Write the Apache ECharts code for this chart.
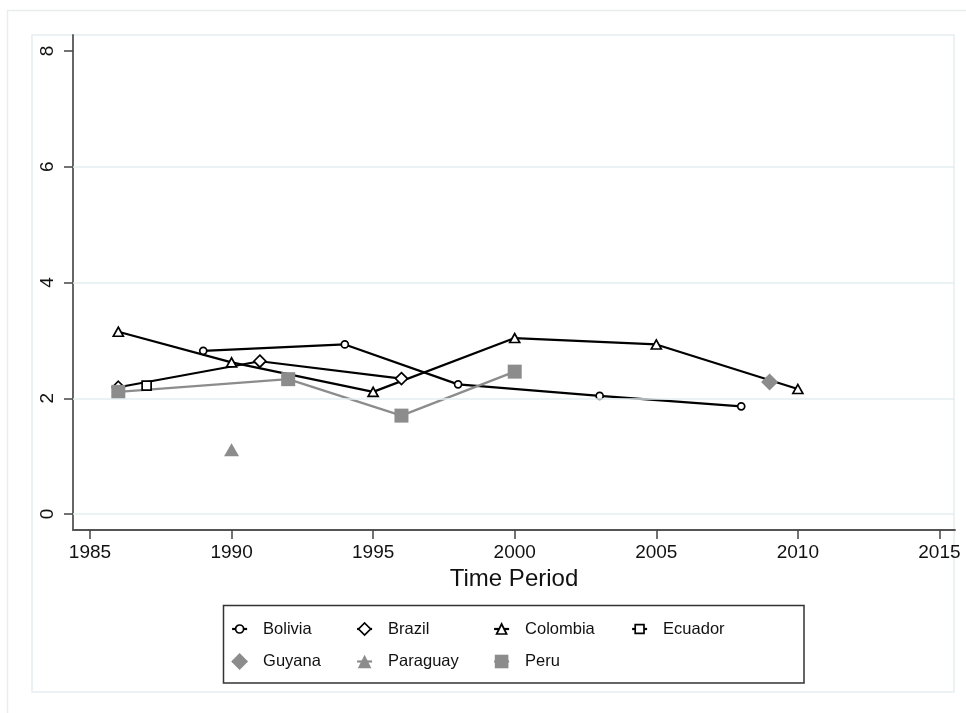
<!DOCTYPE html>
<html>
<head>
<meta charset="utf-8">
<title>Time Period</title>
<script src="https://cdn.jsdelivr.net/npm/echarts@6/dist/echarts.min.js"></script>
<style>
  html, body { margin: 0; padding: 0; background: #fff; }
  #chart { width: 966px; height: 713px; }
</style>
</head>
<body>
<div id="chart"></div>
<script>
// Election years and values per country
const boliviaYears  = [1989, 1994, 1998, 2003, 2008];
const boliviaValues = [2.82, 2.93, 2.24, 2.04, 1.86];

const brazilYears  = [1986, 1991, 1996];
const brazilValues = [2.19, 2.64, 2.34];

const colombiaYears  = [1986, 1990, 1995, 2000, 2005, 2010];
const colombiaValues = [3.15, 2.62, 2.11, 3.04, 2.93, 2.16];

const ecuadorYears  = [1987];
const ecuadorValues = [2.22];

const guyanaYears  = [2009];
const guyanaValues = [2.28];

const paraguayYears  = [1990];
const paraguayValues = [1.11];

const peruYears  = [1986, 1992, 1996, 2000];
const peruValues = [2.11, 2.33, 1.70, 2.46];

// Axis ticks
const xTicks = [1985, 1990, 1995, 2000, 2005, 2010, 2015];
const yTicks = [0, 2, 4, 6, 8];
const yGridValues = [0, 2, 4, 6];

const FONT = "'Liberation Sans', Arial, Helvetica, sans-serif";
const INK = '#111';
const GRAY = '#8c8c8c';
const LINE_W = 2.2;

const zip = (xs, ys) => xs.map((x, i) => [x, ys[i]]);

function hollowSeries(name, years, values, symbol, size) {
  return {
    name, type: 'line', data: zip(years, values),
    symbol, symbolSize: size,
    itemStyle: { color: '#fff', borderColor: '#000', borderWidth: 1.7 },
    lineStyle: { color: '#000', width: LINE_W },
    emphasis: { disabled: true }, animation: false
  };
}
function solidSeries(name, years, values, symbol, size) {
  return {
    name, type: 'line', data: zip(years, values),
    symbol, symbolSize: size,
    itemStyle: { color: GRAY, borderWidth: 0 },
    lineStyle: { color: GRAY, width: LINE_W },
    emphasis: { disabled: true }, animation: false
  };
}

// Legend keys: [name, left, rowCenter, itemHeight, hollow]
const legendKeys = [
  ['Bolivia',  231, 629, 10, true],
  ['Brazil',   356, 629, 15, true],
  ['Colombia', 493, 629, 12.5, true],
  ['Ecuador',  631, 629, 11, true],
  ['Guyana',   231, 661.5, 21, false],
  ['Paraguay', 356, 661.5, 17, false],
  ['Peru',     493, 661.5, 17, false]
];

const legends = legendKeys.map(([name, left, cy, h, hollow]) => ({
  data: [name],
  left, top: cy - 12,
  orient: 'horizontal',
  padding: 0,
  itemWidth: 15,
  itemHeight: h,
  selectedMode: false,
  itemStyle: hollow
    ? { color: '#fff', borderColor: '#000', borderWidth: 1.7 }
    : { color: GRAY, borderWidth: 0 },
  lineStyle: { color: hollow ? '#000' : GRAY, width: LINE_W },
  textStyle: {
    fontFamily: FONT, fontSize: 16.5, color: INK,
    lineHeight: 24, padding: [0, 0, 0, 11]
  }
}));

const chart = echarts.init(document.getElementById('chart'), null, { renderer: 'canvas' });

chart.setOption({
  backgroundColor: '#fff',
  animation: false,
  textStyle: { fontFamily: FONT },
  graphic: [
    { type: 'rect', z: -10, silent: true,
      shape: { x: 7.5, y: 10.5, width: 980, height: 720 },
      style: { fill: '#fff', stroke: '#e6eef0', lineWidth: 1.5 } },
    { type: 'rect', z: -9, silent: true,
      shape: { x: 32, y: 35, width: 922, height: 657 },
      style: { fill: '#fff', stroke: '#e6eef0', lineWidth: 1.5 } },
    { type: 'rect', z: 3, silent: true,
      shape: { x: 223.5, y: 605.5, width: 580.5, height: 77.5 },
      style: { fill: '#fff', stroke: '#333', lineWidth: 1.5 } }
  ],
  grid: {
    left: 73, right: 11, top: 35, bottom: 183,
    containLabel: false,
    outerBoundsMode: 'none'
  },
  legend: legends,
  xAxis: {
    type: 'value',
    min: 1984.4, max: 2015.55,
    name: 'Time Period',
    nameLocation: 'middle',
    nameGap: 34,
    nameTextStyle: { fontFamily: FONT, fontSize: 24, color: INK, verticalAlign: 'top' },
    axisLine: { show: true, onZero: false, lineStyle: { color: '#555', width: 1.8 } },
    axisTick: { show: true, length: 9, customValues: xTicks, lineStyle: { color: '#444', width: 1.5 } },
    axisLabel: {
      customValues: xTicks, margin: 13,
      fontFamily: FONT, fontSize: 19, color: INK,
      formatter: v => String(v)
    },
    splitLine: { show: false }
  },
  yAxis: {
    type: 'value',
    min: -0.276, max: 8.276,
    axisLine: { show: true, onZero: false, lineStyle: { color: '#555', width: 1.8 } },
    axisTick: { show: true, length: 9, customValues: yTicks, lineStyle: { color: '#444', width: 1.5 } },
    axisLabel: {
      customValues: yTicks, margin: 16, rotate: 90,
      fontFamily: FONT, fontSize: 19, color: INK,
      formatter: v => String(v)
    },
    splitLine: { show: false }
  },
  series: [
    {
      name: 'gridlines', type: 'line', data: [], z: 1, silent: true,
      markLine: {
        silent: true, symbol: ['none', 'none'], animation: false,
        label: { show: false },
        lineStyle: { color: '#e4eef0', width: 1.5, type: 'solid' },
        emphasis: { disabled: true },
        data: yGridValues.map(v => ({ yAxis: v }))
      }
    },
    hollowSeries('Bolivia',  boliviaYears,  boliviaValues,  'circle',   7),
    hollowSeries('Brazil',   brazilYears,   brazilValues,   'diamond',  12),
    hollowSeries('Colombia', colombiaYears, colombiaValues, 'triangle', [10, 9]),
    hollowSeries('Ecuador',  ecuadorYears,  ecuadorValues,  'rect',     9),
    solidSeries('Guyana',    guyanaYears,   guyanaValues,   'diamond',  17),
    solidSeries('Paraguay',  paraguayYears, paraguayValues, 'triangle', [15, 13]),
    solidSeries('Peru',      peruYears,     peruValues,     'rect',     14)
  ]
});
</script>
</body>
</html>
